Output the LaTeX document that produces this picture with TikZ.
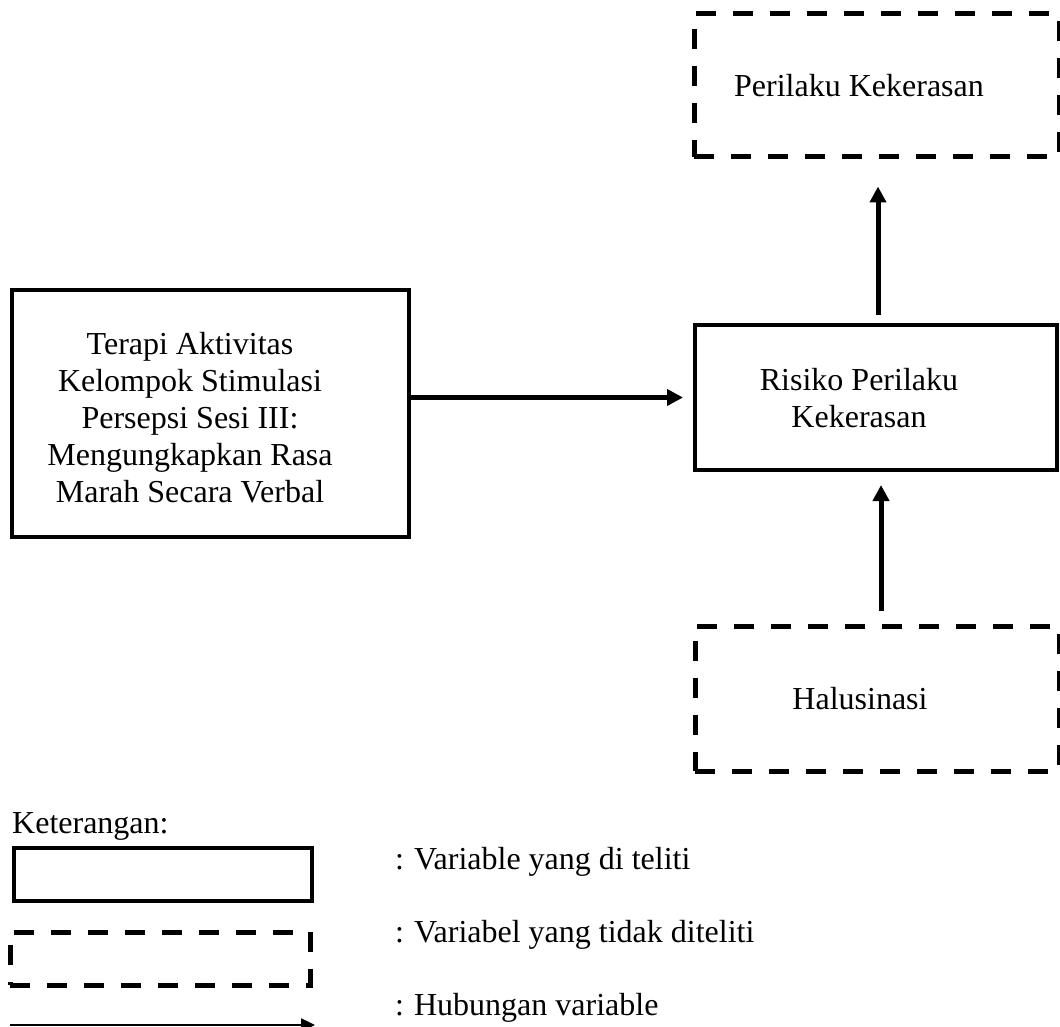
\documentclass[tikz,border=0pt]{standalone}
\usepackage{fontspec}
\setmainfont{Liberation Serif}
\usetikzlibrary{arrows.meta}
\begin{document}
\begin{tikzpicture}[x=1pt,y=-1pt,
  solidbox/.style={draw, line width=4pt, inner sep=0pt},
  dashbox/.style={draw, line width=5pt, dash pattern=on 20pt off 17pt, inner sep=0pt},
  txt/.style={font=\fontsize{32}{37}\selectfont, inner sep=0pt, align=center},
  arr/.style={line width=5pt, -{Triangle[length=16pt,width=16pt]}},
  larr/.style={line width=2.5pt, -{Triangle[length=14pt,width=13pt]}}]
\useasboundingbox (0,0) rectangle (1060,1027);
% main boxes
\node[dashbox, minimum width=365pt, minimum height=143pt] (ptop) at (876.5,85.5) {};
\node[txt, anchor=base] (ptoptxt) at (859,97) {Perilaku Kekerasan};
\node[solidbox, minimum width=397pt, minimum height=247pt] (terapi) at (210.5,413.5) {};
\node[txt] (terapitxt) at (190,418) {Terapi Aktivitas\\Kelompok Stimulasi\\Persepsi Sesi III:\\Mengungkapkan Rasa\\Marah Secara Verbal};
\node[solidbox, minimum width=362pt, minimum height=145pt] (risiko) at (876,397.5) {};
\node[txt] (risikotxt) at (859,398) {Risiko Perilaku\\Kekerasan};
\node[dashbox, minimum width=364pt, minimum height=145pt] (halu) at (877,698.5) {};
\node[txt, anchor=base] (halutxt) at (860,709) {Halusinasi};
% connectors
\draw[arr, shorten <=8pt, shorten >=27pt] ([xshift=2pt]risiko.north) -- ([xshift=2pt]risiko.north |- ptop.south);
\draw[arr, shorten <=13pt, shorten >=13pt] ([xshift=4pt]halu.north) -- ([xshift=4pt]halu.north |- risiko.south);
\draw[arr, shorten >=10pt] (terapi.east |- risiko.west) -- (risiko.west);
% legend
\node[txt, anchor=base west] (ket) at (12,833) {Keterangan:};
\node[solidbox, minimum width=298pt, minimum height=53pt] (lsolid) at (163,874.5) {};
\node[dashbox, minimum width=300pt, minimum height=53pt] (ldash) at (160,958.5) {};
\coordinate (la1) at (10,1025);
\coordinate (la2) at (315,1025);
\draw[larr] (la1) -- (la2);
\node[txt, anchor=west] (l1) at (395,862) {:\hspace{10pt}Variable yang di teliti};
\node[txt, anchor=west] (l2) at (395,935) {:\hspace{10pt}Variabel yang tidak diteliti};
\node[txt, anchor=west] (l3) at (395,1008) {:\hspace{10pt}Hubungan variable};
\end{tikzpicture}
\end{document}
